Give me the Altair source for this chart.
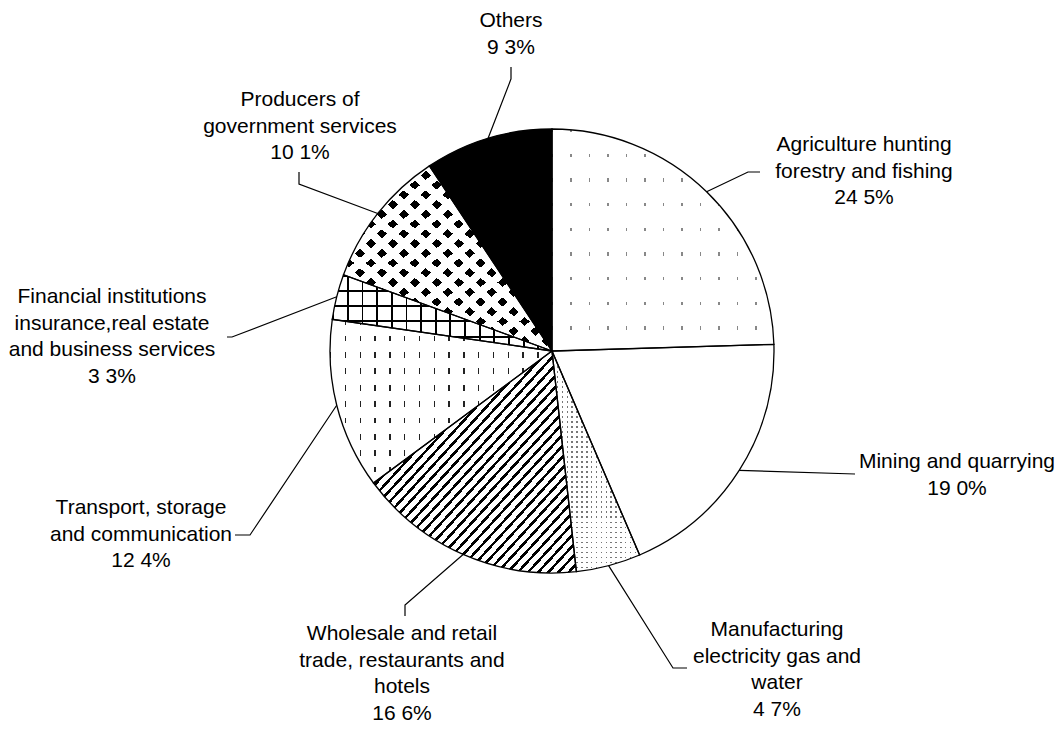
import math
import altair as alt
import pandas as pd

# ---------------- data ----------------
SECTORS = [
    "Agriculture, hunting, forestry and fishing",
    "Mining and quarrying",
    "Manufacturing, electricity, gas and water",
    "Wholesale and retail trade, restaurants and hotels",
    "Transport, storage and communication",
    "Financial institutions, insurance, real estate and business services",
    "Producers of government services",
    "Others",
]
SHARES = [24.5, 19.0, 4.7, 16.6, 12.4, 3.3, 10.1, 9.3]
LABEL_LINES = [
    ["Agriculture  hunting", "forestry and fishing"],
    ["Mining and quarrying"],
    ["Manufacturing", "electricity  gas and", "water"],
    ["Wholesale and retail", "trade, restaurants and", "hotels"],
    ["Transport, storage", "and communication"],
    ["Financial institutions", "insurance,real estate", "and business services"],
    ["Producers of", "government services"],
    ["Others"],
]
# the printed figure shows a space where the decimal point would be
PCT_TEXT = [f"{v:.1f}%".replace(".", " ") for v in SHARES]

# ---------------- layout (page pixels) ----------------
M = 8  # page margin
CX, CY, R = 552 - M, 351 - M, 222
W, H = 1048, 715
# centre x and first-line y of each label block
LABEL_XY = [(864, 145), (957, 462), (777, 630), (402, 634),
            (141, 508), (112, 297), (300, 100), (511, 21)]
LEADER_PTS = [
    [(748, 172), (760, 172)],
    [(855, 474)],
    [(673, 668), (687, 668)],
    [(405, 605), (405, 616)],
    [(250, 535), (235, 535)],
    [(232, 337), (227, 337)],
    [(299, 184), (299, 172)],
    [(511, 79), (511, 67)],
]

# ---------------- tables ----------------
total = sum(SHARES)
cum = 0.0
rows = []
for i, (s, v) in enumerate(zip(SECTORS, SHARES)):
    t0 = 2 * math.pi * cum / total
    cum += v
    t1 = 2 * math.pi * cum / total
    rows.append(dict(idx=i, sector=s, share=v, t0=t0, t1=t1))
arcs = pd.DataFrame(rows)

lead_rows = []
for r in rows:
    mid = (r["t0"] + r["t1"]) / 2
    pts = [(CX + R * math.sin(mid), CY - R * math.cos(mid))]
    pts += [(px - M, py - M) for px, py in LEADER_PTS[r["idx"]]]
    for k, (px, py) in enumerate(pts):
        lead_rows.append(dict(idx=r["idx"], k=k, x=px, y=py))
leaders = pd.DataFrame(lead_rows)

labels = pd.DataFrame([
    dict(idx=i, text="\n".join(LABEL_LINES[i] + [PCT_TEXT[i]]),
         x=LABEL_XY[i][0] - M, y=LABEL_XY[i][1] - M)
    for i in range(len(SECTORS))
])

# ---------------- pattern helpers (gradient stripes) ----------------
CLEAR = "rgba(255,255,255,0)"


def bands(n, ink, gap, frac, d):
    x1, y1, x2, y2 = d
    stops = []
    for i in range(n):
        a = i / n
        b = (i + frac) / n
        c = (i + 1) / n
        stops += [
            {"offset": round(a, 5), "color": ink},
            {"offset": round(b, 5), "color": ink},
            {"offset": round(b, 5), "color": gap},
            {"offset": round(c, 5), "color": gap},
        ]
    return {"gradient": "linear", "x1": x1, "y1": y1, "x2": x2, "y2": y2,
            "stops": stops}


VERT = (0, 0, 1, 0)
HORZ = (0, 0, 0, 1)
DIAG = (0, 0, 1, 1)
ADIAG = (1, 0, 0, 1)

PATTERNS = {
    0: ["white", bands(12, "#888888", CLEAR, 0.06, VERT), bands(9, CLEAR, "white", 0.14, HORZ)],
    1: ["white"],
    2: ["white", bands(18, "#777777", CLEAR, 0.3, VERT), bands(44, CLEAR, "white", 0.35, HORZ)],
    3: ["white", bands(40, "black", "white", 0.34, DIAG)],
    4: ["white", bands(15, "#222222", CLEAR, 0.09, VERT), bands(10, CLEAR, "white", 0.35, HORZ)],
    5: ["white", bands(15, "black", CLEAR, 0.13, VERT), bands(5, "black", CLEAR, 0.13, HORZ)],
    6: ["black", bands(19, CLEAR, "white", 0.47, DIAG), bands(19, CLEAR, "white", 0.47, ADIAG)],
    7: ["black"],
}

enc = dict(
    theta=alt.Theta("t0:Q", scale=None),
    theta2=alt.Theta2("t1:Q"),
    x=alt.value(CX),
    y=alt.value(CY),
)

layers = []
for i, fills in PATTERNS.items():
    for f in fills:
        layers.append(
            alt.Chart(arcs)
            .transform_filter(alt.datum.idx == i)
            .mark_arc(radius=R, fill=f, strokeWidth=0)
            .encode(**enc)
        )

outline = alt.Chart(arcs).mark_arc(
    radius=R, fill="white", fillOpacity=0, stroke="black", strokeWidth=1.3
).encode(**enc)

lead = alt.Chart(leaders).mark_line(color="black", strokeWidth=1.2).encode(
    x=alt.X("x:Q", scale=None),
    y=alt.Y("y:Q", scale=None),
    detail="idx:N",
    order=alt.Order("k:Q"),
)

text = alt.Chart(labels).mark_text(
    font="Liberation Sans", fontSize=21, lineHeight=26.5, lineBreak="\n",
    align="center", baseline="middle", color="black",
).encode(
    x=alt.X("x:Q", scale=None),
    y=alt.Y("y:Q", scale=None),
    text="text:N",
)

chart = alt.layer(*layers, outline, lead, text).properties(
    width=W, height=H, autosize=alt.AutoSizeParams(type="none"), padding=0,
).configure_view(stroke="transparent")

chart.save("out.html", embed_options={"renderer": "svg", "actions": False})
